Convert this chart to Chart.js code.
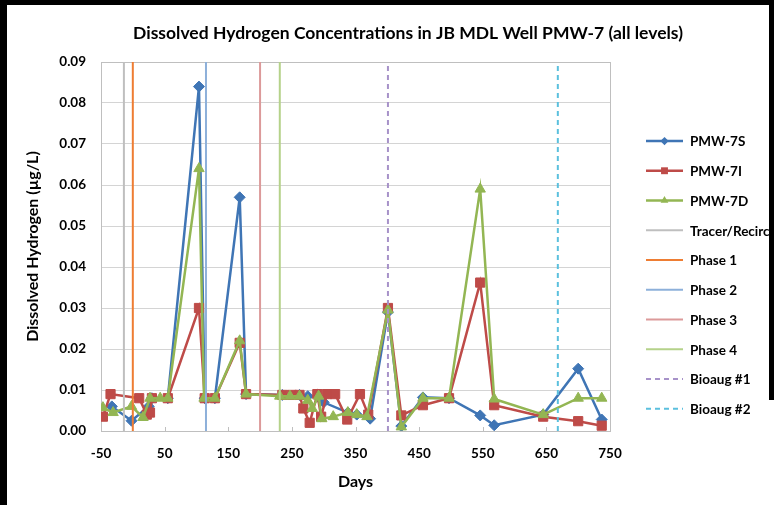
<!DOCTYPE html>
<html>
<head>
<meta charset="utf-8">
<script src="https://cdn.jsdelivr.net/npm/chart.js@4.4.1/dist/chart.umd.min.js"></script>
<style>
  body { margin: 0; background: #fff; }
  #wrap { position: relative; width: 774px; height: 505px; overflow: hidden; background: #fff; }
  #Chart { position: absolute; left: 0; top: 0; }
  .edge { position: absolute; background: #000; }
</style>
</head>
<body>
<div id="wrap">
  <canvas id="Chart" width="774" height="505"></canvas>
  <div class="edge" style="left:0;top:0;width:774px;height:5px"></div>
  <div class="edge" style="left:0;top:0;width:7px;height:505px"></div>
  <div class="edge" style="left:769px;top:0;width:5px;height:400px"></div>
</div>
<script>
// axis ticks
const xTicks = [-50, 50, 150, 250, 350, 450, 550, 650, 750];
const yTicks = [0, 0.01, 0.02, 0.03, 0.04, 0.05, 0.06, 0.07, 0.08, 0.09];

// PMW-7S
const daysS = [-33, -2, 25, 30, 55, 104, 113, 129, 168, 178, 235, 262, 275, 290, 300, 338, 352, 373, 401, 422, 456, 497, 546, 568, 645, 700, 737];
const valsS = [0.006, 0.0025, 0.006, 0.008, 0.008, 0.084, 0.008, 0.008, 0.057, 0.009, 0.0088, 0.0088, 0.0085, 0.0085, 0.007, 0.0045, 0.004, 0.003, 0.029, 0.0012, 0.0082, 0.008, 0.0038, 0.0014, 0.004, 0.0152, 0.0028];

// PMW-7I
const daysI = [-47, -35, 10, 22, 27, 30, 55, 104, 113, 129, 168, 178, 235, 250, 262, 268, 278, 290, 296, 305, 318, 337, 357, 370, 401, 422, 456, 497, 546, 568, 645, 700, 737];
const valsI = [0.0035, 0.009, 0.008, 0.004, 0.0045, 0.008, 0.008, 0.030, 0.008, 0.008, 0.0215, 0.009, 0.0088, 0.0088, 0.0088, 0.0055, 0.002, 0.009, 0.0035, 0.009, 0.009, 0.0028, 0.009, 0.004, 0.030, 0.0038, 0.0063, 0.008, 0.0362, 0.0063, 0.0035, 0.0024, 0.0013];

// PMW-7D
const daysD = [-47, -31, -2, 16, 27, 43, 55, 104, 112, 129, 168, 178, 231, 247, 262, 275, 282, 292, 297, 315, 338, 352, 368, 401, 422, 456, 497, 546, 568, 645, 700, 737];
const valsD = [0.0057, 0.0045, 0.006, 0.0033, 0.008, 0.008, 0.008, 0.064, 0.008, 0.008, 0.022, 0.009, 0.0085, 0.0085, 0.0085, 0.0075, 0.0055, 0.0085, 0.003, 0.0035, 0.0045, 0.004, 0.0035, 0.0295, 0.001, 0.008, 0.008, 0.059, 0.0078, 0.004, 0.008, 0.008];

// event lines
const eventNames = ['Tracer/Recirc', 'Phase 1', 'Phase 2', 'Phase 3', 'Phase 4', 'Bioaug #1', 'Bioaug #2'];
const eventDays = [-14, 0, 115, 200, 231, 401, 668];

const seriesColors = ['#3f75b5', '#be4b48', '#93b653'];
const eventColors = ['#bfbfbf', '#ee7d33', '#8db0da', '#dc9a9a', '#b5d28a', '#a792c9', '#5bc0de'];

function toPoints(days, vals) {
  return days.map((d, i) => ({x: d, y: vals[i]}));
}

let datasets = [
  {label: 'PMW-7S', data: toPoints(daysS, valsS), borderColor: seriesColors[0], backgroundColor: seriesColors[0],
   pointStyle: 'rectRot', pointRadius: 5.5, order: 10},
  {label: 'PMW-7I', data: toPoints(daysI, valsI), borderColor: seriesColors[1], backgroundColor: seriesColors[1],
   pointStyle: 'rect', pointRadius: 6.5, order: 9},
  {label: 'PMW-7D', data: toPoints(daysD, valsD), borderColor: seriesColors[2], backgroundColor: seriesColors[2],
   pointStyle: 'triangle', pointRadius: 6, order: 8},
];
datasets.forEach(ds => {
  ds.borderWidth = 2.5;
  ds.pointBorderWidth = 1;
  ds.pointHoverRadius = ds.pointRadius;
});

eventNames.forEach((name, i) => {
  datasets.push({
    label: name,
    data: [{x: eventDays[i], y: 0}, {x: eventDays[i], y: 0.09}],
    borderColor: eventColors[i],
    backgroundColor: eventColors[i],
    borderWidth: 2,
    borderDash: i >= 5 ? [5, 4] : [],
    pointRadius: 0,
    order: 7 - i
  });
});

const FONT = 'Lato, "Open Sans", sans-serif';

function drawMark(ctx, style, x, y, r, color) {
  ctx.fillStyle = color;
  ctx.beginPath();
  if (style === 'rectRot') {
    ctx.moveTo(x, y - r); ctx.lineTo(x + r, y); ctx.lineTo(x, y + r); ctx.lineTo(x - r, y);
  } else if (style === 'rect') {
    let s = r * Math.SQRT1_2;
    ctx.rect(x - s, y - s, 2 * s, 2 * s);
  } else if (style === 'triangle') {
    for (let k = 0; k < 3; k++) {
      let a = k * 2 * Math.PI / 3;
      let px = x + Math.sin(a) * r, py = y - Math.cos(a) * r;
      if (k === 0) ctx.moveTo(px, py); else ctx.lineTo(px, py);
    }
  }
  ctx.closePath();
  ctx.fill();
}

const decor = {
  id: 'decor',
  beforeDatasetsDraw(chart) {
    const {ctx, chartArea: a, scales} = chart;
    ctx.save();
    ctx.strokeStyle = '#bfbfbf';
    ctx.lineWidth = 1;
    ctx.strokeRect(Math.round(a.left) + 0.5, Math.round(a.top) + 0.5, Math.round(a.right - a.left), Math.round(a.bottom - a.top));
    // small inside tick marks on x axis
    ctx.beginPath();
    xTicks.forEach(v => {
      let px = Math.round(scales.x.getPixelForValue(v)) + 0.5;
      ctx.moveTo(px, a.bottom);
      ctx.lineTo(px, a.bottom - 4);
    });
    ctx.stroke();
    ctx.restore();
  },
  afterDraw(chart) {
    const ctx = chart.ctx;
    ctx.save();
    // title
    ctx.fillStyle = '#000';
    ctx.font = 'bold 17.5px ' + FONT;
    ctx.textAlign = 'center';
    ctx.textBaseline = 'middle';
    ctx.fillText('Dissolved Hydrogen Concentrations in JB MDL Well PMW-7 (all levels)', 408, 33);
    // legend
    ctx.font = 'bold 13.5px ' + FONT;
    ctx.textAlign = 'left';
    chart.data.datasets.forEach((ds, i) => {
      let y = 141 + i * 29.75;
      ctx.strokeStyle = ds.borderColor;
      ctx.lineWidth = ds.borderWidth;
      ctx.setLineDash(ds.borderDash || []);
      ctx.beginPath();
      ctx.moveTo(646, y);
      ctx.lineTo(683, y);
      ctx.stroke();
      ctx.setLineDash([]);
      if (ds.pointRadius > 0) drawMark(ctx, ds.pointStyle, 664.5, y, ds.pointRadius * 0.75, ds.borderColor);
      ctx.fillStyle = '#000';
      ctx.fillText(ds.label, 690, y + 1);
    });
    ctx.restore();
  }
};

const ctx = document.getElementById('Chart').getContext('2d');
const myChart = new Chart(ctx, {
  type: 'line',
  data: {datasets: datasets},
  plugins: [decor],
  options: {
    responsive: false,
    animation: false,
    devicePixelRatio: 1,
    layout: {padding: {top: 62, left: 10, right: 164, bottom: 10}},
    plugins: {
      legend: {display: false},
      title: {display: false},
      tooltip: {enabled: false}
    },
    elements: {line: {tension: 0}},
    scales: {
      x: {
        type: 'linear',
        min: -50,
        max: 750,
        afterBuildTicks: s => { s.ticks = xTicks.map(v => ({value: v})); },
        afterFit: s => { s.height = 64; },
        grid: {display: false},
        border: {display: false},
        ticks: {
          font: {family: FONT, size: 13.5, weight: 'bold'},
          color: '#000',
          padding: 7,
          maxRotation: 0,
          autoSkip: false
        },
        title: {
          display: true,
          text: 'Days',
          color: '#000',
          font: {family: FONT, size: 16, weight: 'bold'},
          padding: {top: 0, bottom: 4}
        }
      },
      y: {
        min: 0,
        max: 0.09,
        afterBuildTicks: s => { s.ticks = yTicks.map(v => ({value: v})); },
        afterFit: s => { s.width = 91; },
        grid: {color: '#d4d4d4', drawTicks: false},
        border: {display: false},
        ticks: {
          font: {family: FONT, size: 13.5, weight: 'bold'},
          color: '#000',
          padding: 15,
          callback: v => v.toFixed(2)
        },
        title: {
          display: true,
          text: 'Dissolved Hydrogen (µg/L)',
          color: '#000',
          font: {family: FONT, size: 16, weight: 'bold'},
          padding: {top: 13, bottom: 0}
        }
      }
    }
  }
});
</script>
</body>
</html>
